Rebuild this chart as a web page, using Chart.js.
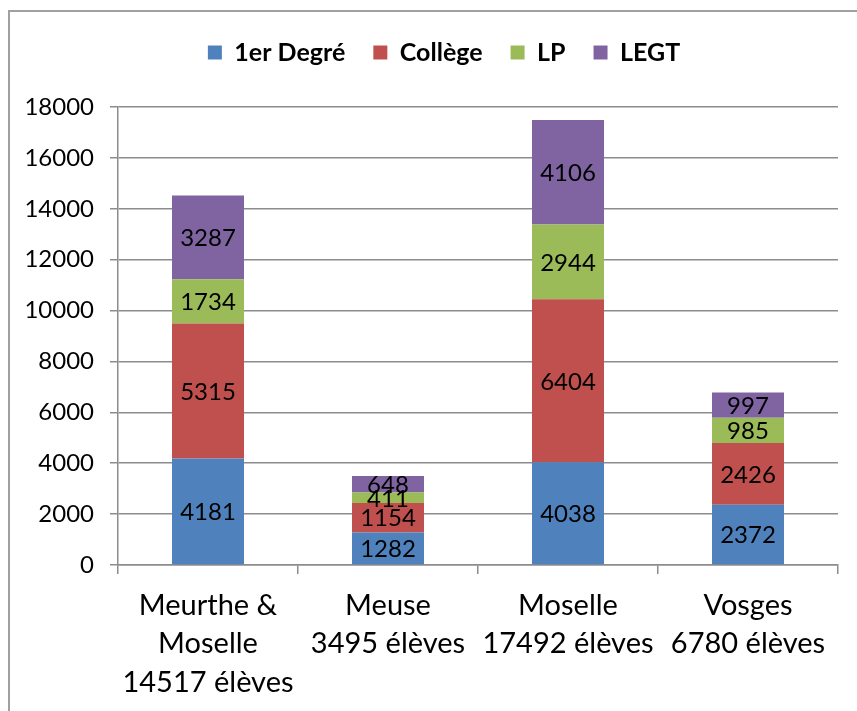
<!DOCTYPE html>
<html>
<head>
<meta charset="utf-8">
<script src="https://cdn.jsdelivr.net/npm/chart.js@4/dist/chart.umd.min.js"></script>
<style>
  html, body { margin: 0; padding: 0; background: #fff; }
  #wrap { position: relative; width: 857px; height: 711px; }
</style>
</head>
<body>
<div id="wrap"><canvas id="chart" width="857" height="711"></canvas></div>
<script>
// categories (multi-line axis labels)
const categories = [
    ['Meurthe &', 'Moselle', '14517 élèves'],
    ['Meuse', '3495 élèves'],
    ['Moselle', '17492 élèves'],
    ['Vosges', '6780 élèves']
];

const seriesNames = ['1er Degré', 'Collège', 'LP', 'LEGT'];
const premierDegre = [4181, 1282, 4038, 2372];
const college = [5315, 1154, 6404, 2426];
const lp = [1734, 411, 2944, 985];
const legt = [3287, 648, 4106, 997];

const yMin = 0;
const yMax = 18000;
const yStep = 2000;

const colors = ['#4F81BD', '#C0504D', '#9BBB59', '#8064A2'];
const FONT = 'Lato, "Open Sans", sans-serif';
const GRID = '#8c8c8c';

// outer frame of the chart object
const framePlugin = {
    id: 'frame',
    beforeDraw(chart) {
        const ctx = chart.ctx;
        ctx.save();
        ctx.strokeStyle = '#a0a0a0';
        ctx.lineWidth = 2;
        ctx.strokeRect(9, 11, 900, 800);
        ctx.restore();
    }
};

// extra gap between legend and plot area, and centre legend over the plot
const legendGap = {
    id: 'legendGap',
    beforeInit(chart) {
        const fit = chart.legend.fit;
        chart.legend.fit = function () {
            fit.call(this);
            this.height += 32;
        };
    },
    afterLayout(chart) {
        chart.legend.left += 25;
        chart.legend.right += 25;
    }
};

// value labels centred in each segment
const valueLabels = {
    id: 'valueLabels',
    afterDatasetsDraw(chart) {
        const ctx = chart.ctx;
        ctx.save();
        ctx.font = '24px ' + FONT;
        ctx.fillStyle = '#000';
        ctx.textAlign = 'center';
        ctx.textBaseline = 'middle';
        chart.data.datasets.forEach((ds, i) => {
            const meta = chart.getDatasetMeta(i);
            meta.data.forEach((bar, j) => {
                const yc = (bar.y + bar.base) / 2;
                ctx.fillText(String(ds.data[j]), bar.x, yc + 1);
            });
        });
        ctx.restore();
    }
};

const allSeries = [premierDegre, college, lp, legt];

new Chart(document.getElementById('chart'), {
    type: 'bar',
    data: {
        labels: categories,
        datasets: allSeries.map((vals, i) => ({
            label: seriesNames[i],
            data: vals,
            backgroundColor: colors[i],
            borderWidth: 0,
            categoryPercentage: 1,
            barPercentage: 0.4
        }))
    },
    options: {
        responsive: false,
        animation: false,
        layout: { padding: { left: 0, right: 19, top: 12, bottom: 0 } },
        plugins: {
            tooltip: { enabled: false },
            legend: {
                position: 'top',
                labels: {
                    boxWidth: 14,
                    boxHeight: 14,
                    padding: 28,
                    color: '#000',
                    font: { family: FONT, size: 25, weight: 'bold' }
                }
            }
        },
        scales: {
            x: {
                stacked: true,
                grid: {
                    offset: true,
                    drawOnChartArea: false,
                    drawTicks: true,
                    tickLength: 9,
                    color: GRID,
                    lineWidth: 1.5
                },
                border: { color: GRID, width: 1.5 },
                ticks: {
                    color: '#000',
                    padding: 12,
                    font: { family: FONT, size: 29, lineHeight: 1.33 },
                    maxRotation: 0,
                    autoSkip: false
                },
                afterFit(scale) { scale.height = 146; }
            },
            y: {
                stacked: true,
                min: yMin,
                max: yMax,
                grid: { color: GRID, lineWidth: 1.5, tickLength: 8 },
                border: { color: GRID, width: 1.5 },
                ticks: {
                    stepSize: yStep,
                    color: '#000',
                    padding: 16,
                    font: { family: FONT, size: 24 },
                    callback: (v) => String(v)
                },
                afterFit(scale) { scale.width = 118; }
            }
        }
    },
    plugins: [framePlugin, legendGap, valueLabels]
});
</script>
</body>
</html>
